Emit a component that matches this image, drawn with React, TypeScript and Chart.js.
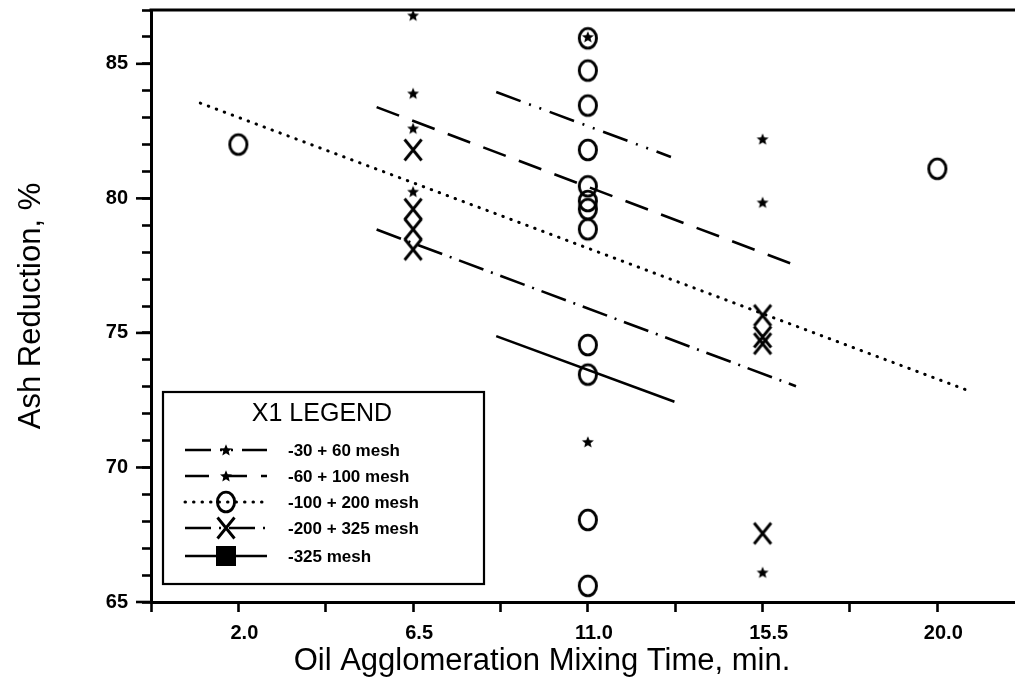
import React, { useEffect, useRef } from "react";
import { Chart, registerables } from "chart.js";

Chart.register(...registerables);

// ---------------- data ----------------
const xTickValues = [-0.25, 2, 4.25, 6.5, 8.75, 11, 13.25, 15.5, 17.75, 20];
const xTickLabeled = [2, 6.5, 11, 15.5, 20];
const yTickLabeled = [65, 70, 75, 80, 85];

const mesh30_60X = [6.5, 6.5, 11, 15.5, 15.5];
const mesh30_60Y = [86.8, 82.6, 86.0, 82.2, 66.1];
const mesh60_100X = [6.5, 6.5, 11, 15.5];
const mesh60_100Y = [83.9, 80.25, 70.95, 79.85];
const mesh100_200X = [2, 11, 11, 11, 11, 11, 11, 11, 11, 11, 11, 11, 11, 20];
const mesh100_200Y = [82.0, 85.95, 84.75, 83.45, 81.8, 80.45, 79.9, 79.6, 78.85, 74.55, 73.45, 68.05, 65.6, 81.1];
const mesh200_325X = [6.5, 6.5, 6.5, 6.5, 15.5, 15.5, 15.5, 15.5];
const mesh200_325Y = [81.8, 79.6, 78.85, 78.1, 75.65, 74.85, 74.6, 67.55];

const fit30_60X = [8.64, 13.14];
const fit30_60Y = [83.95, 81.54];
const fit60_100X = [5.56, 16.36];
const fit60_100Y = [83.39, 77.51];
const fit100_200X = [1.02, 20.77];
const fit100_200Y = [83.54, 72.87];
const fit200_325X = [5.56, 16.36];
const fit200_325Y = [78.84, 73.02];
const fit325X = [8.64, 13.23];
const fit325Y = [74.88, 72.44];

const legendTitle = "X1 LEGEND";
const legendLabels = ["-30 + 60 mesh", "-60 + 100 mesh", "-100 + 200 mesh", "-200 + 325 mesh", "-325 mesh"];
const xTitle = "Oil Agglomeration Mixing Time, min.";
const yTitle = "Ash Reduction, %";

// ---------------- styles ----------------
const FONT = '"Liberation Sans", Arial, Helvetica, sans-serif';
const DASH_DOT_DOT = [26, 9, 2, 9, 2, 9];
const LONG_DASH = [24, 14];
const DOTTED = [0.5, 8];
const DASH_DOT = [26, 8, 2, 8];
const SOLID: number[] = [];

const pts = (xs: number[], ys: number[]) => xs.map((x, i) => ({ x, y: ys[i] }));

function makeStar() {
  const c = document.createElement("canvas");
  c.width = 14; c.height = 14;
  const g = c.getContext("2d")!;
  g.fillStyle = "#000";
  g.beginPath();
  for (let i = 0; i < 10; i++) {
    const r = i % 2 === 0 ? 6.3 : 2.8;
    const a = -Math.PI / 2 + (i * Math.PI) / 5;
    const px = 7 + r * Math.cos(a), py = 7.5 + r * Math.sin(a);
    if (i === 0) g.moveTo(px, py); else g.lineTo(px, py);
  }
  g.closePath();
  g.fill();
  return c;
}
function makeO() {
  const c = document.createElement("canvas");
  c.width = 24; c.height = 26;
  const g = c.getContext("2d")!;
  g.strokeStyle = "#000"; g.lineWidth = 2.9;
  g.beginPath();
  g.ellipse(12, 13, 8.6, 9.9, 0, 0, Math.PI * 2);
  g.stroke();
  return c;
}
function makeX() {
  const c = document.createElement("canvas");
  c.width = 24; c.height = 26;
  const g = c.getContext("2d")!;
  g.strokeStyle = "#000"; g.lineWidth = 2.9;
  g.beginPath();
  g.moveTo(3.5, 2.5); g.lineTo(20.5, 23.5);
  g.moveTo(20.5, 2.5); g.lineTo(3.5, 23.5);
  g.stroke();
  return c;
}
function makeSquare() {
  const c = document.createElement("canvas");
  c.width = 20; c.height = 20;
  const g = c.getContext("2d")!;
  g.fillStyle = "#000";
  g.fillRect(0, 0, 20, 20);
  return c;
}

export default function App() {
  const ref = useRef<HTMLCanvasElement | null>(null);

  useEffect(() => {
    const canvas = ref.current!;
    const star = makeStar();
    const oMark = makeO();
    const xMark = makeX();
    const sq = makeSquare();

    const line = (label: string, xs: number[], ys: number[], dash: number[], cap: CanvasLineCap = "butt", width = 2.6) => ({
      type: "scatter" as const,
      label,
      data: pts(xs, ys),
      showLine: true,
      borderColor: "#000",
      borderWidth: width,
      borderDash: dash,
      borderCapStyle: cap,
      pointRadius: 0,
      pointHoverRadius: 0,
      fill: false,
    });
    const scatter = (label: string, xs: number[], ys: number[], style: HTMLCanvasElement) => ({
      type: "scatter" as const,
      label,
      data: pts(xs, ys),
      showLine: false,
      pointStyle: style,
      pointRadius: 6,
      pointHoverRadius: 6,
      borderColor: "#000",
      backgroundColor: "#000",
    });

    const legendStyles = [
      { dash: DASH_DOT_DOT, cap: "butt", marker: star },
      { dash: LONG_DASH, cap: "butt", marker: star },
      { dash: DOTTED, cap: "round", marker: oMark },
      { dash: DASH_DOT, cap: "butt", marker: xMark },
      { dash: SOLID, cap: "butt", marker: sq },
    ];

    const framePlugin = {
      id: "frame",
      afterDraw(chart: any) {
        const ctx = chart.ctx as CanvasRenderingContext2D;
        const a = chart.chartArea;
        const ys = chart.scales.y;
        ctx.save();
        ctx.strokeStyle = "#000";
        ctx.setLineDash([]);
        // top frame line
        ctx.lineWidth = 3;
        ctx.beginPath();
        ctx.moveTo(a.left - 1.5, a.top);
        ctx.lineTo(a.right, a.top);
        ctx.stroke();
        // longer major ticks on the value axis
        ctx.lineWidth = 2.6;
        yTickLabeled.forEach((v) => {
          const py = ys.getPixelForValue(v);
          ctx.beginPath();
          ctx.moveTo(a.left - 15, py);
          ctx.lineTo(a.left, py);
          ctx.stroke();
        });

        // legend box
        const L = 163, T = 392, R = 484, B = 584;
        ctx.fillStyle = "#fff";
        ctx.fillRect(L, T, R - L, B - T);
        ctx.lineWidth = 2.2;
        ctx.strokeRect(L, T, R - L, B - T);
        ctx.fillStyle = "#000";
        ctx.font = `25px ${FONT}`;
        ctx.textAlign = "center";
        ctx.textBaseline = "middle";
        ctx.fillText(legendTitle, 322, 414);

        const rowsY = [450, 476, 502, 528, 556];
        legendLabels.forEach((lab, i) => {
          const y = rowsY[i];
          const st = legendStyles[i];
          ctx.save();
          ctx.lineWidth = st.dash === DOTTED ? 3 : 2.5;
          ctx.lineCap = st.cap as CanvasLineCap;
          ctx.setLineDash(st.dash);
          ctx.beginPath();
          ctx.moveTo(185, y);
          ctx.lineTo(267, y);
          ctx.stroke();
          ctx.restore();
          const m = st.marker;
          ctx.drawImage(m, 226 - m.width / 2, y - m.height / 2);
          ctx.font = `bold 17px ${FONT}`;
          ctx.textAlign = "left";
          ctx.textBaseline = "middle";
          ctx.fillText(lab, 288, y + 1);
        });

        // axis titles
        ctx.font = `31px ${FONT}`;
        ctx.textAlign = "center";
        ctx.textBaseline = "middle";
        ctx.fillText(xTitle, 542, 661);
        ctx.save();
        ctx.translate(31, 306);
        ctx.rotate(-Math.PI / 2);
        ctx.fillText(yTitle, 0, 0);
        ctx.restore();
        ctx.restore();
      },
    };

    const chart = new Chart(canvas, {
      type: "scatter",
      data: {
        datasets: [
          line("-30 + 60 mesh fit", fit30_60X, fit30_60Y, DASH_DOT_DOT),
          line("-60 + 100 mesh fit", fit60_100X, fit60_100Y, LONG_DASH),
          line("-100 + 200 mesh fit", fit100_200X, fit100_200Y, DOTTED, "round", 3),
          line("-200 + 325 mesh fit", fit200_325X, fit200_325Y, DASH_DOT),
          line("-325 mesh fit", fit325X, fit325Y, SOLID),
          scatter("-30 + 60 mesh", mesh30_60X, mesh30_60Y, star),
          scatter("-60 + 100 mesh", mesh60_100X, mesh60_100Y, star),
          scatter("-100 + 200 mesh", mesh100_200X, mesh100_200Y, oMark),
          scatter("-200 + 325 mesh", mesh200_325X, mesh200_325Y, xMark),
        ] as any,
      },
      options: {
        animation: false,
        responsive: false,
        maintainAspectRatio: false,
        layout: { autoPadding: false, padding: { top: 10, right: 0, left: 0, bottom: 0 } },
        plugins: { legend: { display: false }, tooltip: { enabled: false } },
        scales: {
          x: {
            type: "linear",
            min: -0.25,
            max: 22,
            afterBuildTicks: (s: any) => {
              s.ticks = xTickValues.map((v) => ({ value: v }));
            },
            afterFit: (s: any) => {
              s.height = 88;
              s.paddingLeft = 0;
              s.paddingRight = 0;
            },
            grid: { drawOnChartArea: false, drawTicks: true, tickLength: 10, tickWidth: 2.6, color: "#000" },
            border: { display: true, color: "#000", width: 3 },
            ticks: {
              autoSkip: false,
              maxRotation: 0,
              padding: 9,
              labelOffset: 6,
              color: "#000",
              font: { family: FONT, size: 20, weight: "bold" },
              callback: (v: any) => (xTickLabeled.includes(Number(v)) ? Number(v).toFixed(1) : ""),
            },
          },
          y: {
            type: "linear",
            min: 65,
            max: 87,
            afterFit: (s: any) => {
              s.width = 151;
              s.paddingTop = 0;
              s.paddingBottom = 0;
            },
            grid: { drawOnChartArea: false, drawTicks: true, tickLength: 9, tickWidth: 2.6, color: "#000" },
            border: { display: true, color: "#000", width: 3 },
            ticks: {
              stepSize: 1,
              autoSkip: false,
              padding: 14,
              color: "#000",
              font: { family: FONT, size: 20, weight: "bold" },
              callback: (v: any) => (yTickLabeled.includes(Number(v)) ? String(v) : ""),
            },
          },
        },
      } as any,
      plugins: [framePlugin],
    });

    return () => chart.destroy();
  }, []);

  return (
    <div style={{ position: "fixed", left: 0, top: 0, width: 1015, height: 690, background: "#fff" }}>
      <canvas ref={ref} width={1015} height={690} style={{ display: "block", width: 1015, height: 690 }} />
    </div>
  );
}
